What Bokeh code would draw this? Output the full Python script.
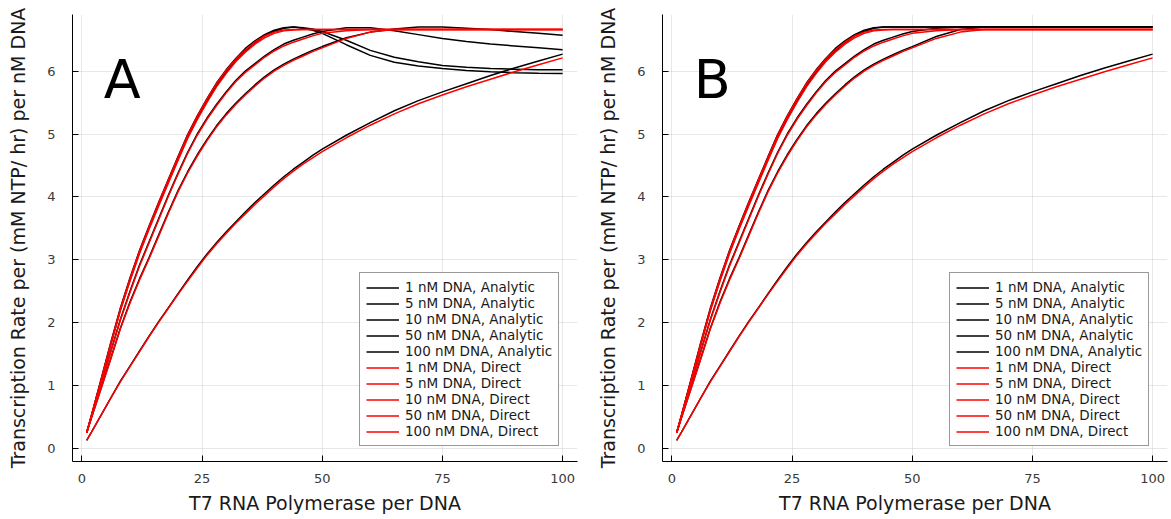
from bokeh.plotting import figure
from bokeh.models import Range1d, Legend, LegendItem, Label, FixedTicker
from bokeh.layouts import row
from bokeh.embed import file_html
from bokeh.resources import INLINE

# ---- data ----
rnap_per_dna = [1, 2, 4, 6, 8, 10, 12, 14, 16, 18, 20, 22, 24, 26, 28, 30, 32, 34, 36, 38, 40, 42, 44,
                46, 48, 50, 55, 60, 65, 70, 75, 80, 85, 90, 95, 100]

dna_labels = ["1 nM DNA", "5 nM DNA", "10 nM DNA", "50 nM DNA", "100 nM DNA"]

# Direct (red) - same in both panels
direct_1 = [0.13, 0.26, 0.53, 0.80, 1.06, 1.30, 1.54, 1.78, 2.01, 2.23, 2.45, 2.66, 2.87, 3.07, 3.25, 3.42,
            3.58, 3.73, 3.88, 4.02, 4.16, 4.29, 4.41, 4.52, 4.62, 4.72, 4.94, 5.14, 5.32, 5.48, 5.62, 5.75,
            5.87, 5.99, 6.10, 6.21]
direct_5 = [0.25, 0.49, 0.95, 1.42, 1.90, 2.31, 2.68, 3.02, 3.38, 3.74, 4.08, 4.38, 4.65, 4.89, 5.11, 5.30,
            5.47, 5.62, 5.76, 5.89, 6.00, 6.09, 6.17, 6.24, 6.31, 6.37, 6.52, 6.62, 6.66, 6.66, 6.66, 6.66,
            6.66, 6.66, 6.66, 6.66]
direct_10 = [0.25, 0.51, 1.02, 1.53, 2.04, 2.48, 2.90, 3.27, 3.64, 4.01, 4.36, 4.69, 4.98, 5.23, 5.45, 5.65,
             5.83, 5.98, 6.10, 6.22, 6.32, 6.40, 6.46, 6.51, 6.56, 6.60, 6.64, 6.66, 6.66, 6.66, 6.66, 6.66,
             6.66, 6.66, 6.66, 6.66]
direct_50 = [0.25, 0.52, 1.07, 1.64, 2.19, 2.66, 3.10, 3.49, 3.86, 4.22, 4.58, 4.93, 5.23, 5.50, 5.75, 5.96,
             6.15, 6.30, 6.43, 6.53, 6.60, 6.64, 6.655, 6.66, 6.66, 6.66, 6.66, 6.66, 6.66, 6.66, 6.66, 6.66,
             6.66, 6.66, 6.66, 6.66]
direct_100 = [0.25, 0.53, 1.09, 1.67, 2.22, 2.70, 3.14, 3.53, 3.91, 4.27, 4.63, 4.98, 5.28, 5.55, 5.80, 6.01,
              6.19, 6.34, 6.46, 6.56, 6.62, 6.655, 6.66, 6.66, 6.66, 6.66, 6.66, 6.66, 6.66, 6.66, 6.66, 6.66,
              6.66, 6.66, 6.66, 6.66]

# Analytic (black) - panel A
analytic_A_1 = [0.13, 0.26, 0.53, 0.80, 1.07, 1.31, 1.55, 1.79, 2.02, 2.24, 2.46, 2.68, 2.89, 3.09, 3.27, 3.44,
                3.60, 3.76, 3.91, 4.05, 4.19, 4.32, 4.44, 4.55, 4.66, 4.76, 4.98, 5.18, 5.37, 5.53, 5.67, 5.80,
                5.93, 6.05, 6.16, 6.27]
analytic_A_5 = [0.25, 0.49, 0.96, 1.43, 1.91, 2.33, 2.70, 3.04, 3.40, 3.76, 4.10, 4.40, 4.67, 4.91, 5.13, 5.32,
                5.49, 5.64, 5.78, 5.91, 6.02, 6.11, 6.19, 6.26, 6.33, 6.39, 6.53, 6.62, 6.67, 6.70, 6.70, 6.68,
                6.66, 6.63, 6.60, 6.57]
analytic_A_10 = [0.25, 0.51, 1.03, 1.54, 2.05, 2.50, 2.92, 3.29, 3.66, 4.03, 4.38, 4.71, 5.00, 5.25, 5.47, 5.67,
                 5.85, 6.00, 6.12, 6.24, 6.34, 6.43, 6.49, 6.54, 6.59, 6.63, 6.69, 6.69, 6.64, 6.58, 6.52, 6.47,
                 6.43, 6.40, 6.37, 6.34]
analytic_A_50 = [0.25, 0.52, 1.08, 1.65, 2.20, 2.68, 3.12, 3.51, 3.88, 4.24, 4.60, 4.95, 5.25, 5.52, 5.77, 5.98,
                 6.17, 6.32, 6.45, 6.56, 6.63, 6.68, 6.70, 6.69, 6.67, 6.63, 6.49, 6.33, 6.22, 6.15, 6.09, 6.06,
                 6.04, 6.03, 6.02, 6.02]
analytic_A_100 = [0.25, 0.53, 1.10, 1.68, 2.23, 2.71, 3.15, 3.54, 3.92, 4.28, 4.64, 4.99, 5.29, 5.56, 5.81, 6.02,
                  6.20, 6.36, 6.48, 6.58, 6.65, 6.69, 6.70, 6.68, 6.65, 6.60, 6.42, 6.25, 6.14, 6.08, 6.04, 6.01,
                  5.99, 5.975, 5.965, 5.96]

# Analytic (black) - panel B
analytic_B_1 = [0.13, 0.26, 0.53, 0.80, 1.07, 1.31, 1.55, 1.79, 2.02, 2.24, 2.46, 2.68, 2.89, 3.09, 3.27, 3.44,
                3.60, 3.76, 3.91, 4.05, 4.19, 4.32, 4.44, 4.55, 4.66, 4.76, 4.98, 5.18, 5.37, 5.53, 5.67, 5.80,
                5.93, 6.05, 6.16, 6.27]
analytic_B_5 = [0.25, 0.49, 0.96, 1.43, 1.91, 2.33, 2.70, 3.04, 3.40, 3.76, 4.10, 4.40, 4.67, 4.91, 5.13, 5.32,
                5.49, 5.64, 5.78, 5.91, 6.02, 6.11, 6.19, 6.26, 6.33, 6.39, 6.55, 6.66, 6.70, 6.70, 6.70, 6.70,
                6.70, 6.70, 6.70, 6.70]
analytic_B_10 = [0.25, 0.51, 1.03, 1.54, 2.05, 2.50, 2.92, 3.29, 3.66, 4.03, 4.38, 4.71, 5.00, 5.25, 5.47, 5.67,
                 5.85, 6.00, 6.12, 6.24, 6.34, 6.43, 6.49, 6.54, 6.59, 6.63, 6.68, 6.70, 6.70, 6.70, 6.70, 6.70,
                 6.70, 6.70, 6.70, 6.70]
analytic_B_50 = [0.25, 0.52, 1.08, 1.65, 2.20, 2.68, 3.12, 3.51, 3.88, 4.24, 4.60, 4.95, 5.25, 5.52, 5.77, 5.98,
                 6.17, 6.32, 6.45, 6.56, 6.63, 6.68, 6.70, 6.70, 6.70, 6.70, 6.70, 6.70, 6.70, 6.70, 6.70, 6.70,
                 6.70, 6.70, 6.70, 6.70]
analytic_B_100 = [0.25, 0.53, 1.10, 1.68, 2.23, 2.71, 3.15, 3.54, 3.92, 4.28, 4.64, 4.99, 5.29, 5.56, 5.81, 6.02,
                  6.20, 6.36, 6.48, 6.58, 6.65, 6.69, 6.70, 6.70, 6.70, 6.70, 6.70, 6.70, 6.70, 6.70, 6.70, 6.70,
                  6.70, 6.70, 6.70, 6.70]

x_ticks = [0, 25, 50, 75, 100]
y_ticks = [0, 1, 2, 3, 4, 5, 6]

FONT = "DejaVu Sans"


def make_panel(letter, analytic, direct, width, border_right):
    p = figure(width=width, height=519, output_backend="svg", toolbar_location=None,
               x_range=Range1d(-1.95, 103.1), y_range=Range1d(-0.207, 6.90),
               min_border_left=72, min_border_right=border_right, min_border_top=14,
               min_border_bottom=58)
    p.outline_line_color = None
    p.background_fill_color = "white"
    p.border_fill_color = "white"

    for ax in (p.xaxis[0], p.yaxis[0]):
        ax.axis_line_color = "black"
        ax.axis_line_width = 1
        ax.major_tick_line_color = "black"
        ax.major_tick_in = 6
        ax.major_tick_out = 0
        ax.minor_tick_line_color = None
        ax.major_label_text_font = FONT
        ax.major_label_text_font_size = "13px"
        ax.major_label_text_color = "#3a3a3a"
        ax.axis_label_text_font = FONT
        ax.axis_label_text_font_size = "19px"
        ax.axis_label_text_font_style = "normal"
        ax.axis_label_text_color = "#1a1a1a"

    p.xaxis.ticker = FixedTicker(ticks=x_ticks)
    p.yaxis.ticker = FixedTicker(ticks=y_ticks)
    p.xaxis.axis_label = "T7 RNA Polymerase per DNA"
    p.yaxis.axis_label = "Transcription Rate per (mM NTP/ hr) per nM DNA"
    p.xaxis.major_label_standoff = 12
    p.xaxis.axis_label_standoff = 6
    p.yaxis.major_label_standoff = 17
    p.yaxis.axis_label_standoff = 15

    p.grid.grid_line_color = "black"
    p.grid.grid_line_alpha = 0.09
    p.grid.grid_line_width = 1

    items_a, items_d = [], []
    for lab, ys in zip(dna_labels, analytic):
        r = p.line(rnap_per_dna, ys, line_color="black", line_width=1.5)
        items_a.append(LegendItem(label=lab + ", Analytic", renderers=[r]))
    for lab, ys in zip(dna_labels, direct):
        r = p.line(rnap_per_dna, ys, line_color="#ff0000", line_width=1.5)
        items_d.append(LegendItem(label=lab + ", Direct", renderers=[r]))

    leg = Legend(items=items_a + items_d, location=(287, 15))
    leg.label_text_font = FONT
    leg.label_text_font_size = "13.5px"
    leg.label_text_color = "#1a1a1a"
    leg.label_height = 15
    leg.glyph_height = 15
    leg.glyph_width = 33
    leg.spacing = 0
    leg.padding = 6
    leg.margin = 0
    leg.label_standoff = 6
    leg.border_line_color = "#333333"
    leg.border_line_width = 1
    leg.background_fill_alpha = 1
    p.add_layout(leg, "center")

    p.add_layout(Label(x=8.4, y=5.87, text=letter, text_font=FONT, text_font_size="54px",
                       text_align="center", text_baseline="alphabetic", text_color="black"))
    return p


pA = make_panel("A", [analytic_A_1, analytic_A_5, analytic_A_10, analytic_A_50, analytic_A_100],
                [direct_1, direct_5, direct_10, direct_50, direct_100], 590, 13)
pB = make_panel("B", [analytic_B_1, analytic_B_5, analytic_B_10, analytic_B_50, analytic_B_100],
                [direct_1, direct_5, direct_10, direct_50, direct_100], 581, 4)

layout = row(pA, pB)
open("out.html", "w").write(file_html(layout, INLINE))
